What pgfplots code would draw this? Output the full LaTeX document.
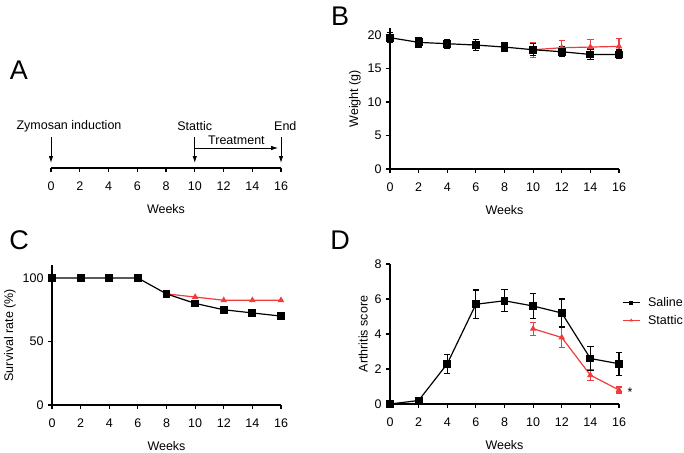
\documentclass[border=0pt]{standalone}
\usepackage{fontspec}
\setmainfont{Liberation Sans}
\usepackage{pgfplots}
\pgfplotsset{compat=1.18}
\usetikzlibrary{arrows.meta}
\definecolor{cRed}{RGB}{240,60,60}
\newcommand{\fs}{\fontsize{12.5}{14}\selectfont}
\pgfplotsset{
  panel/.style={
    scale only axis, width=229pt, anchor=south west,
    axis x line=bottom, axis y line=left,
    axis line style={-, line width=1.2pt},
    xmin=0, xmax=16, xtick={0,2,...,16},
    tick align=outside, major tick length=4pt,
    tick style={line width=1.2pt, black},
    tick label style={font=\fs},
    xticklabel style={yshift=-6pt},
    yticklabel style={xshift=-1pt},
    label style={font=\fs},
    xlabel style={yshift=-7pt},
    /pgf/number format/assume math mode=true,
    xlabel={Weeks},
    clip=false,
  },
  saline/.style={black, line width=1.2pt, mark=square*, mark size=3.3pt, mark options={solid}},
  stattic/.style={cRed, line width=1.2pt, mark=triangle*, mark size=2.6pt, mark options={solid}},
  ebar/.style={error bars/.cd, y dir=both, y explicit,
    error bar style={line width=1.2pt},
    error mark options={rotate=90, line width=1.2pt, mark size=3.2pt, #1}},
}

% weight (g)
\pgfplotstableread{
x y e
0 19.6 0.75
2 18.9 0.7
4 18.7 0.65
6 18.5 0.8
8 18.2 0.7
10 17.8 0.9
12 17.5 0.75
14 17.1 0.8
16 17.1 0.65
}\wSaline
\pgfplotstableread{
x y e
10 17.8 1.1
12 18.1 1.1
14 18.2 1.15
16 18.3 1.2
}\wStattic
% survival (%)
\pgfplotstableread{
x y
0 100
2 100
4 100
6 100
8 87.5
10 80
12 75
14 72.5
16 70
}\sSaline
\pgfplotstableread{
x y
8 87.5
10 85
12 82.5
14 82.5
16 82.5
}\sStattic
% arthritis score
\pgfplotstableread{
x y e
0 0 0
2 0.2 0
4 2.3 0.55
6 5.7 0.82
8 5.9 0.63
10 5.6 0.7
12 5.2 0.8
14 2.6 0.7
16 2.3 0.65
}\aSaline
\pgfplotstableread{
x y e
10 4.3 0.38
12 3.8 0.57
14 1.65 0.3
16 0.8 0.17
}\aStattic

\begin{document}
\begin{tikzpicture}
\useasboundingbox (0,0) rectangle (684pt,-452pt);
\node[font=\fontsize{27}{30}\selectfont] at (19pt,-70pt) {A};
\node[font=\fontsize{27}{30}\selectfont] at (340pt,-16pt) {B};
\node[font=\fontsize{27}{30}\selectfont] at (19pt,-240pt) {C};
\node[font=\fontsize{27}{30}\selectfont] at (340pt,-240pt) {D};

% A: timeline
\begin{axis}[panel, at={(51pt,-168pt)}, width=230pt, height=50pt,
  ymin=0, ymax=1, axis y line=none]
\draw[-{Latex[length=7pt,width=4.5pt]}, line width=0.9pt] (axis cs:0,0.62) -- (axis cs:0,0.1);
\draw[-{Latex[length=7pt,width=4.5pt]}, line width=0.9pt] (axis cs:10,0.62) -- (axis cs:10,0.1);
\draw[-{Latex[length=7pt,width=4.5pt]}, line width=0.9pt] (axis cs:16,0.62) -- (axis cs:16,0.1);
\draw[-{Latex[length=7pt,width=4.5pt]}, line width=0.9pt] (axis cs:10,0.4) -- (axis cs:15.8,0.4);
\node[font=\fs] at (axis cs:1.25,0.84) {Zymosan induction};
\node[font=\fs] at (axis cs:10,0.84) {Stattic};
\node[font=\fs] at (axis cs:16.3,0.84) {End};
\node[font=\fs] at (axis cs:12.9,0.56) {Treatment};
\end{axis}

% B: weight
\begin{axis}[panel, at={(390pt,-169pt)}, height=140.7pt,
  ymin=0, ymax=21, ytick={0,5,10,15,20}, ylabel={Weight (g)}]
\addplot[stattic, ebar=cRed] table[x=x, y=y, y error=e] {\wStattic};
\addplot[saline, ebar=black] table[x=x, y=y, y error=e] {\wSaline};
\end{axis}

% C: survival
\begin{axis}[panel, at={(52pt,-405pt)}, height=139.7pt,
  ymin=0, ymax=110, ytick={0,50,100}, ylabel={Survival rate (\%)}]
\addplot[stattic] table[x=x, y=y] {\sStattic};
\addplot[saline] table[x=x, y=y] {\sSaline};
\end{axis}

% D: arthritis score
\begin{axis}[panel, at={(390pt,-404pt)}, height=140pt,
  ymin=0, ymax=8, ytick={0,2,4,6,8}, ylabel={Arthritis score},
  legend style={at={(1.0,0.79)}, anchor=north west, draw=none, fill=none,
    font=\fs, row sep=3pt, /tikz/every odd column/.append style={column sep=6pt}},
  legend image code/.code={\draw[#1, line width=0.9pt, mark repeat=2, mark phase=2, mark options={scale=0.45}]
    plot coordinates {(0pt,0pt) (8.5pt,0pt) (17pt,0pt)};},
  reverse legend]
\addplot[stattic, ebar=cRed] table[x=x, y=y, y error=e] {\aStattic};
\addlegendentry{Stattic}
\addplot[saline, ebar=black] table[x=x, y=y, y error=e] {\aSaline};
\addlegendentry{Saline}
\node[font=\fs] at (axis cs:16.77,0.69) {*};
\end{axis}
\end{tikzpicture}
\end{document}
